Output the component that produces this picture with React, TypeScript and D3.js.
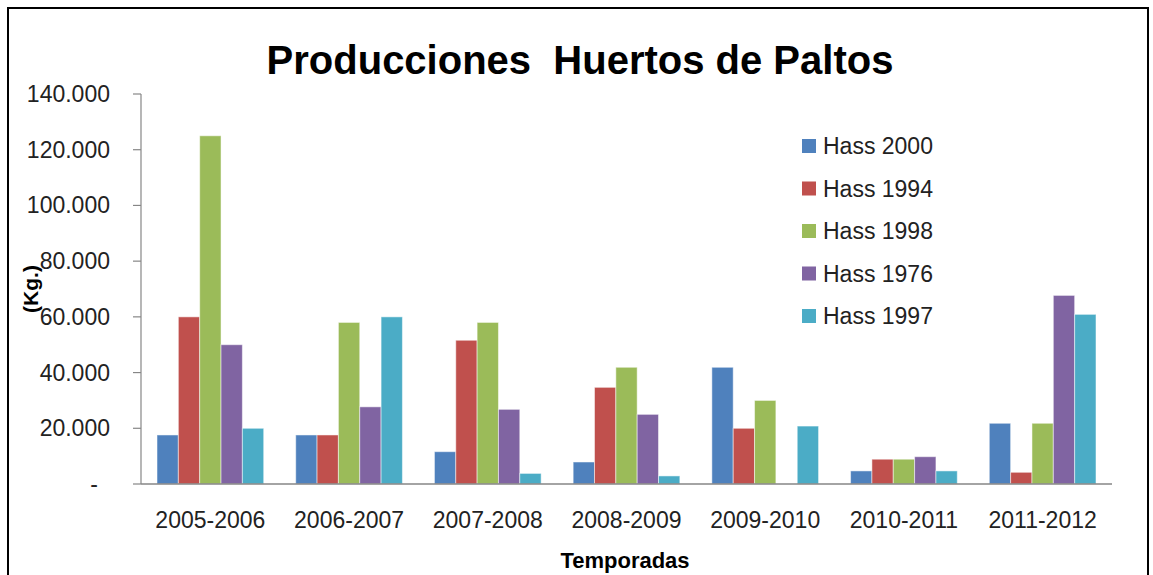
import React from "react";
import * as d3 from "d3";

const seasons = ["2005-2006", "2006-2007", "2007-2008", "2008-2009", "2009-2010", "2010-2011", "2011-2012"];
const seriesNames = ["Hass 2000", "Hass 1994", "Hass 1998", "Hass 1976", "Hass 1997"];
const colors = ["#4F81BD", "#C0504D", "#9BBB59", "#8064A2", "#4BACC6"];

const hass2000 = [17600, 17600, 11600, 7900, 41900, 4700, 21800];
const hass1994 = [60000, 17600, 51600, 34700, 20000, 8900, 4200];
const hass1998 = [125000, 58000, 58000, 41900, 30000, 8900, 21800];
const hass1976 = [50000, 27700, 26800, 25000, 0, 9800, 67700];
const hass1997 = [20000, 60000, 3800, 2900, 20800, 4700, 60900];

const yTicks = [0, 20000, 40000, 60000, 80000, 100000, 120000, 140000];

const W = 1153;
const H = 575;
const margin = { left: 141, right: 1112, top: 94, bottom: 484 };

// Excel style thousands: 20.000, zero shown as "-"
const fmt = (v: number) => (v === 0 ? "-" : d3.format(",")(v).replace(/,/g, "."));

export default function App() {
  const series = [hass2000, hass1994, hass1998, hass1976, hass1997];

  const x = d3.scaleBand<string>().domain(seasons).range([margin.left, margin.right]);
  // gap width 150%: 0.75 bar on each side of the group
  const inner = d3.scaleBand<string>().domain(seriesNames).range([0, x.bandwidth()]).paddingOuter(0.75);
  const y = d3.scaleLinear().domain([0, 140000]).range([margin.bottom, margin.top]);

  const font = "'Liberation Sans', Arial, sans-serif";

  return (
    <svg width={W} height={H} style={{ position: "absolute", left: 0, top: 0, background: "#fff" }} fontFamily={font}>
      <rect x={8} y={8} width={1140} height={620} fill="#fff" stroke="#000" strokeWidth={2} />

      <text x={580} y={74} textAnchor="middle" fontSize={40} fontWeight="bold" fill="#000">
        Producciones{"\u00a0\u00a0"}Huertos de Paltos
      </text>

      {/* y axis */}
      <line x1={margin.left} x2={margin.left} y1={margin.top} y2={margin.bottom} stroke="#868686" strokeWidth={1.2} />
      {yTicks.map((t) => (
        <g key={t}>
          <line x1={margin.left - 8} x2={margin.left} y1={y(t)} y2={y(t)} stroke="#868686" strokeWidth={1.2} />
          <text x={t === 0 ? 98 : 110} y={y(t)} dy="0.35em" textAnchor="end" fontSize={23} fill="#222">
            {fmt(t)}
          </text>
        </g>
      ))}

      <text
        transform={`translate(31,289) rotate(-90)`}
        textAnchor="middle"
        dy="0.35em"
        fontSize={21}
        fontWeight="bold"
        fill="#000"
      >
        (Kg.)
      </text>

      {/* bars */}
      {seasons.map((s, i) => (
        <g key={s} transform={`translate(${x(s)},0)`}>
          {series.map((vals, j) => {
            const v = vals[i];
            if (!v) return null;
            return (
              <rect
                key={j}
                x={inner(seriesNames[j])}
                y={y(v)}
                width={inner.bandwidth()}
                height={y(0) - y(v)}
                fill={colors[j]}
                stroke="#fff"
                strokeOpacity={0.5}
                strokeWidth={1}
              />
            );
          })}
        </g>
      ))}

      {/* x axis */}
      <line x1={margin.left} x2={margin.right} y1={margin.bottom} y2={margin.bottom} stroke="#868686" strokeWidth={1.5} />
      {seasons.map((s) => (
        <text key={s} x={(x(s) ?? 0) + x.bandwidth() / 2} y={528} textAnchor="middle" fontSize={23} fill="#222">
          {s}
        </text>
      ))}
      <text x={625} y={568} textAnchor="middle" fontSize={22} fontWeight="bold" fill="#000">
        Temporadas
      </text>

      {/* legend */}
      {seriesNames.map((n, j) => (
        <g key={n} transform={`translate(802,${146 + j * 42.5})`}>
          <rect x={0} y={-7} width={14} height={14} fill={colors[j]} />
          <text x={21} y={0} dy="0.35em" fontSize={23} fill="#222">
            {n}
          </text>
        </g>
      ))}
    </svg>
  );
}
